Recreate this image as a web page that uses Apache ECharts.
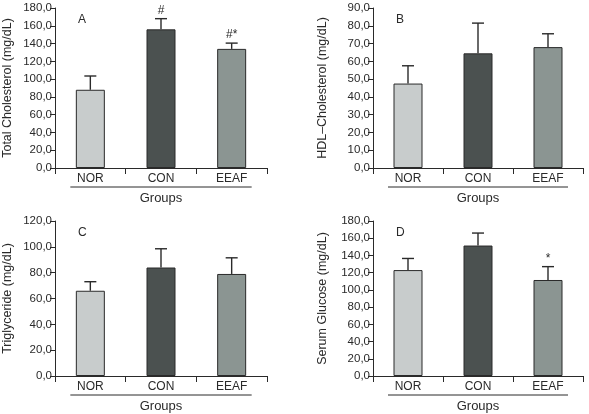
<!DOCTYPE html>
<html>
<head>
<meta charset="utf-8">
<script src="https://cdn.jsdelivr.net/npm/echarts@6/dist/echarts.min.js"></script>
<style>
  html, body { margin: 0; padding: 0; background: #fff; }
  #chart { width: 589px; height: 414px; }
</style>
</head>
<body>
<div id="chart"></div>
<script>
// groups on the x axis
var groups = ['NOR', 'CON', 'EEAF'];

// mean and error (SD) per group
var tcMean = [88, 156, 134];
var tcErr = [15.5, 12, 6.5];
var tcMarks = ['', '#', '#*'];

var hdlMean = [47.5, 64.5, 68];
var hdlErr = [10, 17, 7.5];
var hdlMarks = ['', '', ''];

var tgMean = [66, 84, 79];
var tgErr = [7, 14.5, 12.5];
var tgMarks = ['', '', ''];

var gluMean = [123, 151.5, 111.5];
var gluErr = [13.5, 14.5, 15.5];
var gluMarks = ['', '', '*'];

var panelLetters = ['A', 'B', 'C', 'D'];
var yNames = ['Total Cholesterol (mg/dL)', 'HDL\u2013Cholesterol (mg/dL)', 'Triglyceride (mg/dL)', 'Serum Glucose (mg/dL)'];
var yMax = [180, 90, 120, 180];
var yStep = [20, 10, 20, 20];

var barColors = ['#c8cccc', '#4b5150', '#8b9592'];
var font = '"Liberation Sans", Arial, sans-serif';
var ink = '#2a2a2a';

var panels = [
    { mean: tcMean, err: tcErr, marks: tcMarks },
    { mean: hdlMean, err: hdlErr, marks: hdlMarks },
    { mean: tgMean, err: tgErr, marks: tgMarks },
    { mean: gluMean, err: gluErr, marks: gluMarks }
];

var grids = [
    { left: 55, top: 8, width: 212, height: 160 },
    { left: 373, top: 8, width: 210, height: 160 },
    { left: 55, top: 221, width: 212, height: 158 },
    { left: 373, top: 221, width: 210, height: 158 }
];

var myChart = echarts.init(document.getElementById('chart'));

var option = {
    animation: false,
    textStyle: { fontFamily: font },
    grid: grids,
    title: [],
    xAxis: [],
    yAxis: [],
    series: []
};

for (var i = 0; i < 4; i++) {
    var p = panels[i];
    var g = grids[i];

    option.title.push({
        text: panelLetters[i],
        left: g.left + 18,
        top: g.top + 1,
        textStyle: { fontSize: 12, fontWeight: 'normal', color: ink, fontFamily: font }
    });

    option.xAxis.push({
        type: 'category',
        gridIndex: i,
        data: groups,
        name: 'Groups',
        nameLocation: 'middle',
        nameGap: 24,
        nameTextStyle: { fontSize: 13, color: ink, fontFamily: font },
        axisLine: { lineStyle: { color: ink, width: 1 } },
        axisTick: { show: true, length: 6, lineStyle: { color: ink } },
        axisLabel: { fontSize: 12, color: ink, margin: 5, fontFamily: font }
    });

    option.yAxis.push({
        type: 'value',
        gridIndex: i,
        min: 0,
        max: yMax[i],
        interval: yStep[i],
        name: yNames[i],
        nameLocation: 'middle',
        nameRotate: 90,
        nameGap: (i % 2 === 0) ? 41 : 44,
        nameTextStyle: { fontSize: 12.5, color: ink, fontFamily: font },
        splitLine: { show: false },
        axisLine: { show: true, lineStyle: { color: ink, width: 1 } },
        axisTick: { show: true, length: 5, lineStyle: { color: ink } },
        axisLabel: {
            fontSize: 11.5, color: ink, margin: 3, fontFamily: font,
            formatter: function (v) { return v.toFixed(1).replace('.', ','); }
        }
    });

    option.series.push({
        type: 'bar',
        xAxisIndex: i,
        yAxisIndex: i,
        barWidth: 29,
        data: p.mean.map(function (v, k) {
            return { value: v, itemStyle: { color: barColors[k] } };
        }),
        itemStyle: { borderColor: ink, borderWidth: 1 }
    });

    // error bars with significance marks
    option.series.push({
        type: 'custom',
        xAxisIndex: i,
        yAxisIndex: i,
        z: 5,
        data: p.mean.map(function (v, k) { return [k, v, v + p.err[k]]; }),
        renderItem: function (params, api) {
            var lo = api.coord([api.value(0), api.value(1)]);
            var hi = api.coord([api.value(0), api.value(2)]);
            var d = params.dataIndex;
            var marksArr = panels[params.seriesIndex >> 1].marks;
            var children = [
                { type: 'line', shape: { x1: lo[0], y1: lo[1], x2: hi[0], y2: hi[1] }, style: { stroke: ink, lineWidth: 1.4 } },
                { type: 'line', shape: { x1: hi[0] - 6, y1: hi[1], x2: hi[0] + 6, y2: hi[1] }, style: { stroke: ink, lineWidth: 1.4 } }
            ];
            if (marksArr[d]) {
                children.push({
                    type: 'text',
                    style: {
                        text: marksArr[d], x: hi[0], y: hi[1] - 2,
                        align: 'center', verticalAlign: 'bottom',
                        fontSize: 12, fill: ink, fontFamily: font
                    }
                });
            }
            return { type: 'group', children: children };
        }
    });
}

myChart.setOption(option);

// underline below the group labels, placed from the axis scale
var lines = [];
for (var j = 0; j < 4; j++) {
    var first = myChart.convertToPixel({ xAxisIndex: j, yAxisIndex: j }, [0, 0]);
    var last = myChart.convertToPixel({ xAxisIndex: j, yAxisIndex: j }, [groups.length - 1, 0]);
    lines.push({
        type: 'line',
        shape: { x1: first[0] - 20, y1: first[1] + 19, x2: last[0] + 20, y2: last[1] + 19 },
        style: { stroke: ink, lineWidth: 1 }
    });
}
myChart.setOption({ graphic: lines });
</script>
</body>
</html>
